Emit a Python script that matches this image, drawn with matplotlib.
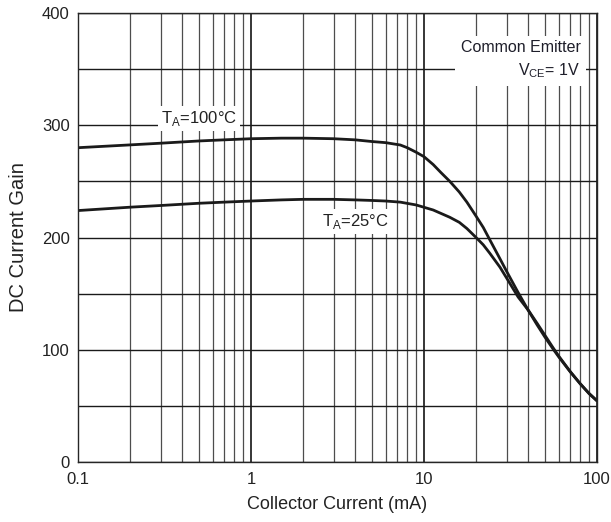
import numpy as np
import matplotlib.pyplot as plt
from matplotlib.ticker import LogLocator, FixedLocator, NullFormatter

plt.rcParams['font.family'] = ['Liberation Sans', 'DejaVu Sans']
plt.rcParams['mathtext.fontset'] = 'custom'
plt.rcParams['mathtext.rm'] = 'Liberation Sans'

# collector current (mA) and DC current gain
ic_100 = [0.1, 0.2, 0.3, 0.5, 0.7, 1, 1.5, 2, 3, 4, 5, 6, 7.3, 8, 9, 10, 11.3, 12.5,
          14.1, 16, 17.7, 20, 22, 24, 27.5, 30, 35, 40, 45, 50, 55.5, 60, 70, 80, 90, 100]
hfe_100 = [280, 282.5, 284, 286, 287, 288, 288.5, 288.5, 288, 287, 285.5, 284.5, 282.4, 280, 276, 272, 265, 258,
           250, 240.5, 231.5, 219, 209, 198, 181, 170, 151, 135.3, 122.3, 111.3, 101.1, 93.8, 80.4, 69.7, 61, 54.5]

ic_25 = [0.1, 0.2, 0.3, 0.5, 0.7, 1, 1.5, 2, 3, 4, 5, 6, 7.3, 9, 11.3, 14.1, 16,
         17.7, 20, 22, 24, 27.5, 30, 33.6, 35, 40, 45, 50, 55.5, 60, 70, 80, 90, 100]
hfe_25 = [224, 227, 228.5, 230.5, 231.5, 232.5, 233.5, 234, 234, 233.5, 233, 232.5, 231.5, 229, 224.5, 218, 213.5,
          208, 200, 193.5, 186, 173.5, 164, 151.5, 147, 135.4, 123.7, 112.9, 102.2, 94.5, 80.6, 69.7, 61, 54.5]

y_ticks = [0, 100, 200, 300, 400]
x_ticks = [0.1, 1, 10, 100]
x_labels = ['0.1', '1', '10', '100']

fig = plt.figure(figsize=(6.11, 5.22), dpi=100)
ax = fig.add_axes([78 / 611, 60 / 522, 519 / 611, 449 / 522])

ax.set_xscale('log')
ax.set_xlim(0.1, 100)
ax.set_ylim(0, 400)

# grid: every log subdivision and every 50 in gain
ax.xaxis.set_major_locator(FixedLocator(x_ticks))
ax.xaxis.set_minor_locator(LogLocator(base=10, subs=np.arange(2, 10)))
ax.xaxis.set_minor_formatter(NullFormatter())
ax.set_xticklabels(x_labels)
ax.set_yticks(y_ticks)
ax.yaxis.set_minor_locator(FixedLocator(np.arange(50, 400, 50)))
ax.grid(True, which='major', axis='x', color='black', lw=1.1)
ax.grid(True, which='minor', axis='x', color='0.3', lw=0.9)
ax.grid(True, which='both', axis='y', color='0.1', lw=1.0)
ax.tick_params(which='both', length=0, labelsize=12, colors='#222222')
ax.tick_params(axis='x', pad=7)
ax.tick_params(axis='y', pad=6)
for s in ax.spines.values():
    s.set_color('0.15')
    s.set_linewidth(1.0)

ax.plot(ic_100, hfe_100, color='#1a1a1a', lw=2.0, solid_capstyle='round')
ax.plot(ic_25, hfe_25, color='#1a1a1a', lw=2.0, solid_capstyle='round')

ax.set_xlabel('Collector Current (mA)', fontsize=13, labelpad=7, color='#222222')
ax.set_ylabel('DC Current Gain', fontsize=14.5, labelpad=10, color='#222222')

box = dict(facecolor='white', edgecolor='none', pad=2)
ax.text(0.5, 306, r'T$_\mathregular{A}$=100°C', fontsize=12, ha='center', va='center',
        bbox=box, color='#222222')
ax.text(4.0, 214, r'T$_\mathregular{A}$=25°C', fontsize=12, ha='center', va='center',
        bbox=box, color='#222222')

# white patch behind the condition note
ax.text(0.968, 0.895, 'Common Emitter\n' + r'V$_\mathregular{CE}$= 1V', transform=ax.transAxes,
        fontsize=11.5, ha='right', va='center', multialignment='right', linespacing=1.5,
        color='#1e1e2a', bbox=dict(facecolor='white', edgecolor='none', pad=4))

fig.savefig('out.png', dpi=100)
